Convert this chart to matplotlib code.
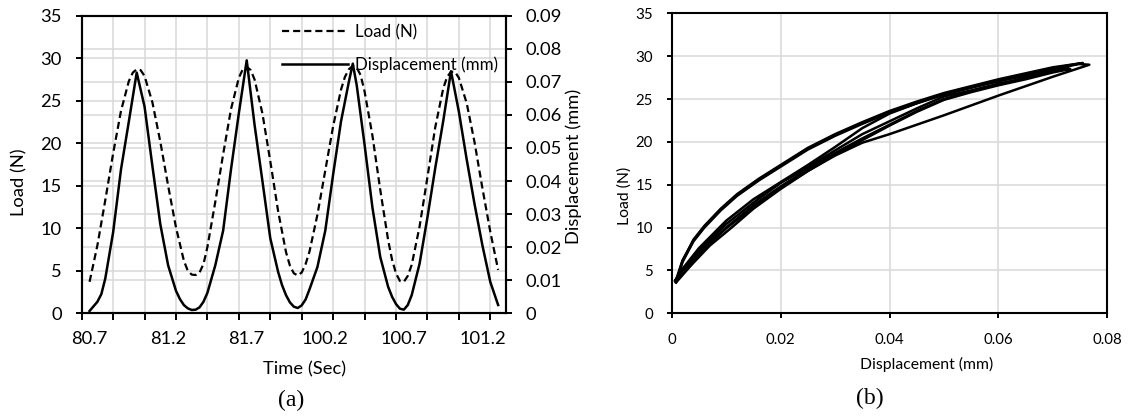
import matplotlib.pyplot as plt
import matplotlib.ticker as mticker

plt.rcParams['font.family'] = ['Lato', 'DejaVu Sans']

# (a) time history; positions are sample indices along the category axis
load_pos = [0, 0.5, 1, 1.5, 2, 2.5, 2.75, 3, 3.25, 3.5, 4, 4.5, 5, 5.5, 6, 6.25, 6.5,
            6.75, 7, 7.25, 7.5, 8, 8.5, 9, 9.5, 9.75, 10, 10.25, 10.5, 11, 11.5, 12,
            12.5, 12.75, 13, 13.25, 13.5, 13.75, 14, 14.5, 15, 15.5, 16, 16.25, 16.5,
            16.75, 17, 17.25, 17.5, 18, 18.5, 19, 19.25, 19.5, 19.75, 20, 20.25,
            20.5, 21, 21.5, 22, 22.5, 22.75, 23, 23.25, 23.5, 24, 24.5, 25, 25.5, 26]
load_n = [3.7, 8.0, 13.3, 18.8, 23.8, 27.3, 28.3, 28.7, 28.6, 27.9, 24.8, 20.2, 15.0,
          10.1, 6.2, 5.0, 4.55, 4.5, 4.8, 5.8, 7.8, 13.1, 18.7, 24.0, 27.7, 28.7,
          29.0, 28.6, 27.5, 23.5, 17.9, 12.0, 7.2, 5.6, 4.7, 4.45, 4.8, 5.8, 7.3,
          11.6, 16.8, 22.0, 26.3, 27.8, 28.7, 29.1, 28.9, 28.0, 26.1, 20.9, 14.5,
          8.6, 6.3, 4.7, 3.8, 3.7, 4.4, 5.7, 10.2, 16.0, 21.9, 26.4, 27.8, 28.4,
          28.4, 27.7, 24.7, 20.1, 14.7, 9.6, 5.1]

disp_pos = [0, 0.5, 0.75, 1, 1.5, 2, 2.5, 3, 3.5, 4, 4.5, 5, 5.5, 5.75, 6, 6.25, 6.5,
            6.75, 7, 7.25, 7.5, 8, 8.5, 9, 9.5, 10, 10.5, 11, 11.5, 12, 12.25, 12.5,
            12.75, 13, 13.25, 13.5, 13.75, 14, 14.5, 15, 15.5, 16, 16.5, 16.75, 17,
            17.5, 18, 18.5, 19, 19.25, 19.5, 19.75, 20, 20.25, 20.5, 21, 21.5, 22,
            22.5, 23, 23.5, 24, 24.5, 25, 25.5, 26]
disp_mm = [0.0007, 0.0035, 0.0058, 0.0105, 0.0245, 0.0435, 0.0580, 0.0728, 0.0625,
           0.0445, 0.0270, 0.0145, 0.0068, 0.0043, 0.0025, 0.0015, 0.0010, 0.0011,
           0.0018, 0.0035, 0.0062, 0.0145, 0.0250, 0.0435, 0.0605, 0.0765, 0.0570,
           0.0400, 0.0227, 0.0125, 0.0085, 0.0055, 0.0033, 0.0020, 0.0016, 0.0024,
           0.0042, 0.0073, 0.0140, 0.0250, 0.0420, 0.0580, 0.0700, 0.0755, 0.0690,
           0.0510, 0.0320, 0.0170, 0.0080, 0.0050, 0.0028, 0.0014, 0.0011, 0.0025,
           0.0055, 0.0150, 0.0290, 0.0440, 0.0580, 0.0732, 0.0610, 0.0465, 0.0330,
           0.0205, 0.0095, 0.0025]

time_labels = ['80.7', '81.2', '81.7', '100.2', '100.7', '101.2']
time_label_pos = [0, 5, 10, 15, 20, 25]

# (b) load-displacement loops, one array pair per cycle
cyc1_disp = [0.0006, 0.002, 0.005, 0.010, 0.015, 0.020, 0.025, 0.030, 0.035, 0.040,
             0.045, 0.050, 0.055, 0.060, 0.065, 0.070, 0.0728,
             0.070, 0.065, 0.060, 0.055, 0.050, 0.045, 0.040, 0.035, 0.030, 0.025,
             0.020, 0.015, 0.010, 0.005, 0.002, 0.0008]
cyc1_load = [3.8, 5.2, 7.6, 10.8, 13.3, 15.3, 17.3, 19.4, 21.6, 23.3,
             24.5, 25.6, 26.4, 27.1, 27.8, 28.4, 28.7,
             28.2, 27.4, 26.8, 26.0, 25.3, 23.9, 22.4, 20.9, 19.0, 17.0,
             15.2, 12.9, 10.4, 7.2, 5.0, 3.9]
cyc2_disp = [0.0008, 0.002, 0.004, 0.006, 0.009, 0.012, 0.016, 0.020, 0.025, 0.030,
             0.035, 0.040, 0.045, 0.050, 0.055, 0.060, 0.065, 0.070, 0.0745, 0.0767,
             0.070, 0.060, 0.050, 0.040, 0.035, 0.030, 0.025, 0.020, 0.015, 0.011,
             0.007, 0.004, 0.002, 0.0008]
cyc2_load = [3.9, 6.2, 8.5, 10.1, 12.1, 13.8, 15.6, 17.2, 19.2, 20.8,
             22.2, 23.5, 24.6, 25.6, 26.4, 27.2, 27.9, 28.6, 29.1, 29.0,
             27.6, 25.4, 23.1, 20.9, 19.9, 18.4, 16.6, 14.5, 12.2, 10.0,
             7.9, 5.9, 4.6, 3.7]
cyc3_disp = [0.0008, 0.002, 0.004, 0.006, 0.009, 0.012, 0.016, 0.020, 0.025, 0.030,
             0.035, 0.040, 0.045, 0.050, 0.055, 0.060, 0.065, 0.070, 0.0755,
             0.072, 0.065, 0.060, 0.055, 0.050, 0.045, 0.040, 0.035, 0.030, 0.025,
             0.020, 0.015, 0.010, 0.006, 0.003, 0.0008]
cyc3_load = [3.7, 6.1, 8.6, 10.2, 12.2, 13.9, 15.7, 17.3, 19.3, 20.9,
             22.3, 23.6, 24.7, 25.7, 26.5, 27.3, 28.0, 28.7, 29.2,
             28.7, 27.5, 26.7, 25.9, 25.0, 23.6, 22.0, 20.4, 18.7, 16.8,
             14.8, 12.6, 10.0, 7.6, 5.2, 3.6]
cyc4_disp = [0.0008, 0.002, 0.004, 0.006, 0.009, 0.012, 0.016, 0.020, 0.025, 0.030,
             0.035, 0.040, 0.045, 0.050, 0.055, 0.060, 0.065, 0.070, 0.0732,
             0.070, 0.065, 0.060, 0.055, 0.050, 0.045, 0.040, 0.035, 0.030, 0.025,
             0.020, 0.015, 0.010, 0.006, 0.0025]
cyc4_load = [3.6, 6.0, 8.4, 10.0, 12.0, 13.7, 15.5, 17.1, 19.1, 20.7,
             22.1, 23.4, 24.5, 25.5, 26.3, 27.1, 27.7, 28.3, 28.5,
             28.1, 27.3, 26.6, 25.8, 24.9, 23.5, 21.9, 20.2, 18.5, 16.6,
             14.6, 12.4, 9.9, 7.6, 5.1]

grid_c = '#d9d9d9'
PX = 1 / 1.389  # pixels to points at 100 dpi

fig = plt.figure(figsize=(11.33, 4.19), dpi=100)

# ---------- (a) load and displacement against time ----------
ax = fig.add_axes([81.7 / 1133, 1 - 313.3 / 419, 424.3 / 1133, 297.6 / 419])
ax2 = ax.twinx()

h_load, = ax.plot(load_pos, load_n, color='black', lw=1.6,
                  linestyle=(0, (3.2, 1.8)), solid_joinstyle='round',
                  dash_joinstyle='round')
h_disp, = ax2.plot(disp_pos, disp_mm, color='black', lw=1.8,
                   solid_joinstyle='round')

ax.set_xlim(-0.5, 26.5)
ax.set_ylim(0, 35)
ax2.set_ylim(0, 0.09)

ax.set_xticks([-0.5 + 2 * k for k in range(14)])
ax.set_xticklabels([])
ax.set_xticks(time_label_pos, minor=True)
ax.set_xticklabels(time_labels, minor=True)

ax.set_yticks(range(0, 36, 5))
disp_ticks = [0, 0.01, 0.02, 0.03, 0.04, 0.05, 0.06, 0.07, 0.08, 0.09]
ax2.set_yticks(disp_ticks)
ax2.set_yticklabels(['0' if v == 0 else f'{v:.2f}' for v in disp_ticks])
# secondary-axis gridlines drawn on the primary axes so they stay under the curves
ax.set_yticks([v * 35 / 0.09 for v in disp_ticks[1:-1]], minor=True)

ax.grid(axis='x', which='major', color=grid_c, lw=1.1)
ax.grid(axis='y', which='both', color=grid_c, lw=1.1)
ax.set_axisbelow(True)

ax.tick_params(axis='y', which='major', length=6 * PX, width=1.4, pad=10,
               labelsize=13.2)
ax.tick_params(axis='y', which='minor', length=0)
ax.tick_params(axis='x', which='major', length=7 * PX, width=1.4)
ax.tick_params(axis='x', which='minor', length=0, pad=13, labelsize=13.2)
ax2.tick_params(axis='y', length=6 * PX, width=1.4, pad=10, labelsize=13.2)

for a in (ax, ax2):
    for s in a.spines.values():
        s.set_linewidth(1.5)
        s.set_color('black')

ax.set_xlabel('Time (Sec)', fontsize=13.2)
ax.xaxis.set_label_coords(0.526, -0.16)
ax.set_ylabel('Load (N)', fontsize=13.2)
ax.yaxis.set_label_coords(-0.128, 0.44)
ax2.set_ylabel('Displacement (mm)', fontsize=13.2)
ax2.yaxis.set_label_coords(1.14, 0.495)

ax2.legend([h_load, h_disp], ['Load (N)', 'Displacement (mm)'],
           loc='upper left', bbox_to_anchor=(0.472, 0.972), frameon=False,
           fontsize=12.2, handlelength=3.9, handletextpad=0.4,
           labelspacing=0.95, borderpad=0, borderaxespad=0)

# ---------- (b) load against displacement ----------
bx = fig.add_axes([671.7 / 1133, 1 - 313.3 / 419, 435.6 / 1133, 300 / 419])
for dx, ld in [(cyc1_disp, cyc1_load), (cyc2_disp, cyc2_load),
               (cyc3_disp, cyc3_load), (cyc4_disp, cyc4_load)]:
    bx.plot(dx, ld, color='black', lw=1.8, solid_joinstyle='round')

bx.set_xlim(0, 0.08)
bx.set_ylim(0, 35)
bx.set_xticks([0, 0.02, 0.04, 0.06, 0.08])
bx.xaxis.set_major_formatter(mticker.FuncFormatter(
    lambda v, p: '0' if v == 0 else f'{v:.2f}'))
bx.set_yticks(range(0, 36, 5))
bx.grid(True, color=grid_c, lw=1.1)
bx.set_axisbelow(True)
bx.tick_params(axis='y', length=5 * PX, width=1.4, pad=10, labelsize=10.8)
bx.tick_params(axis='x', length=5 * PX, width=1.4, pad=10.5, labelsize=10.8)
for s in bx.spines.values():
    s.set_linewidth(1.5)
    s.set_color('black')
bx.set_xlabel('Displacement (mm)', fontsize=11.3)
bx.xaxis.set_label_coords(0.585, -0.145)
bx.set_ylabel('Load (N)', fontsize=11.3)
bx.yaxis.set_label_coords(-0.092, 0.39)

fig.text(291 / 1133, 1 - 400 / 419, '(a)', ha='center', va='center',
         family='Liberation Serif', fontsize=17)
fig.text(870 / 1133, 1 - 398 / 419, '(b)', ha='center', va='center',
         family='Liberation Serif', fontsize=17)

fig.savefig('out.png', dpi=100, facecolor='white')
